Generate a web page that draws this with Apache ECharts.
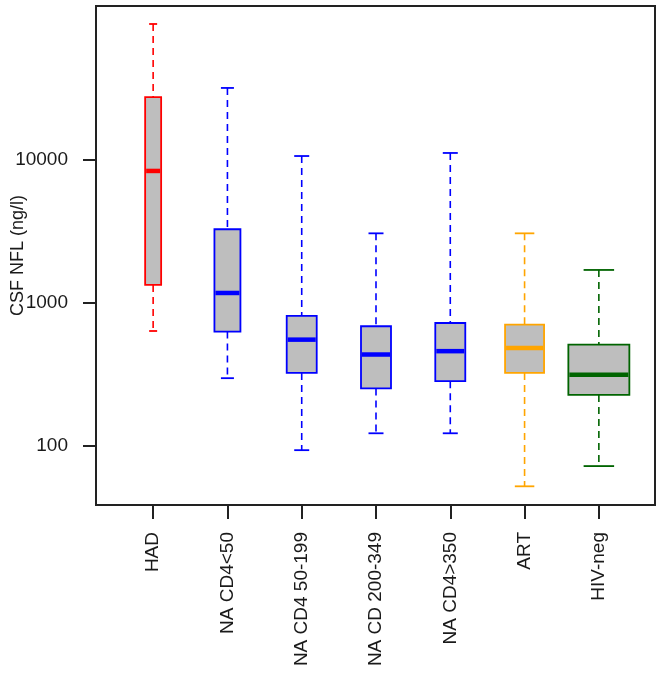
<!DOCTYPE html>
<html>
<head>
<meta charset="utf-8">
<script src="https://cdn.jsdelivr.net/npm/echarts@6/dist/echarts.min.js"></script>
<style>
html,body{margin:0;padding:0;background:#fff;}
#chart{width:662px;height:679px;}
</style>
</head>
<body>
<div id="chart"></div>
<script>
// ---- data ----
var categories = ['HAD', 'NA CD4<50', 'NA CD4 50-199', 'NA CD 200-349', 'NA CD4>350', 'ART', 'HIV-neg'];
var whiskerLow  = [632, 296, 93, 122, 122, 52, 72];
var q1          = [1325, 626, 322, 251, 282, 322, 226];
var median      = [8290, 1165, 550, 433, 457, 481, 313];
var q3          = [27200, 3245, 805, 682, 719, 700, 507];
var whiskerHigh = [88100, 31500, 10540, 3040, 11070, 3040, 1687];
var yTicks = [100, 1000, 10000];

// ---- styles ----
var boxColors = ['#FF0000', '#0000FF', '#0000FF', '#0000FF', '#0000FF', '#FFA500', '#006400'];
var boxWidthPx = [16, 26, 30, 30, 30, 39, 61];
var fontFam = '"Liberation Sans", Arial, sans-serif';
var textColor = '#1a1a1a';

var seriesData = categories.map(function (c, i) {
  return [i, whiskerLow[i], q1[i], median[i], q3[i], whiskerHigh[i]];
});

function renderBox(params, api) {
  var i = api.value(0);
  var lo = api.coord([i, api.value(1)]);
  var b1 = api.coord([i, api.value(2)]);
  var md = api.coord([i, api.value(3)]);
  var b3 = api.coord([i, api.value(4)]);
  var hi = api.coord([i, api.value(5)]);
  var x = lo[0];
  var w = boxWidthPx[i];
  var cap = w / 2;
  var col = boxColors[i];
  var dashStyle = { stroke: col, lineWidth: 1.6, lineDash: [7, 5] };
  var solid = { stroke: col, lineWidth: 1.8 };
  return {
    type: 'group',
    children: [
      { type: 'line', shape: { x1: x, y1: hi[1], x2: x, y2: b3[1] }, style: dashStyle },
      { type: 'line', shape: { x1: x, y1: b1[1], x2: x, y2: lo[1] }, style: dashStyle },
      { type: 'line', shape: { x1: x - cap / 2, y1: hi[1], x2: x + cap / 2, y2: hi[1] }, style: solid },
      { type: 'line', shape: { x1: x - cap / 2, y1: lo[1], x2: x + cap / 2, y2: lo[1] }, style: solid },
      { type: 'rect', shape: { x: x - w / 2, y: b3[1], width: w, height: b1[1] - b3[1] },
        style: { fill: '#BEBEBE', stroke: col, lineWidth: 1.8 } },
      { type: 'line', shape: { x1: x - w / 2 + 1, y1: md[1], x2: x + w / 2 - 1, y2: md[1] },
        style: { stroke: col, lineWidth: 4.5 } }
    ]
  };
}

var chart = echarts.init(document.getElementById('chart'), null, { renderer: 'canvas' });
chart.setOption({
  backgroundColor: '#fff',
  animation: false,
  grid: [
    { left: 116, right: 26, top: 6, bottom: 174, show: false, containLabel: false, outerBoundsMode: 'none' },
    { left: 96, right: 7, top: 6, bottom: 174, show: true, borderColor: '#222', borderWidth: 2, backgroundColor: 'transparent', z: 10, containLabel: false, outerBoundsMode: 'none' }
  ],
  xAxis: [
    {
      gridIndex: 0,
      type: 'category',
      data: categories,
      boundaryGap: true,
      axisLine: { show: false },
      axisTick: { show: true, alignWithLabel: true, inside: false, length: 14, lineStyle: { color: '#222', width: 2 } },
      axisLabel: { rotate: 90, margin: 27, fontSize: 19, fontFamily: fontFam, color: textColor, interval: 0 },
      splitLine: { show: false }
    },
    { gridIndex: 1, type: 'value', show: false, min: 0, max: 1 }
  ],
  yAxis: [
    {
      gridIndex: 0,
      type: 'log',
      logBase: 10,
      min: 38.5,
      max: 117660,
      offset: 20,
      name: 'CSF NFL (ng/l)',
      nameLocation: 'middle',
      nameGap: 69,
      nameRotate: 90,
      nameMoveOverlap: false,
      nameTextStyle: { fontSize: 18, fontFamily: fontFam, color: textColor },
      axisLine: { show: false },
      axisTick: { show: true, length: 13, customValues: yTicks, lineStyle: { color: '#222', width: 2 } },
      axisLabel: {
        customValues: yTicks,
        margin: 28, fontSize: 19, fontFamily: fontFam, color: textColor,
        formatter: function (v) { return String(Math.round(v)); }
      },
      splitLine: { show: false },
      minorTick: { show: false },
      minorSplitLine: { show: false }
    },
    { gridIndex: 1, type: 'value', show: false, min: 0, max: 1 }
  ],
  series: [
    {
      type: 'custom',
      xAxisIndex: 0,
      yAxisIndex: 0,
      renderItem: renderBox,
      encode: { x: 0, y: [1, 2, 3, 4, 5] },
      data: seriesData,
      clip: false
    }
  ]
});
</script>
</body>
</html>
